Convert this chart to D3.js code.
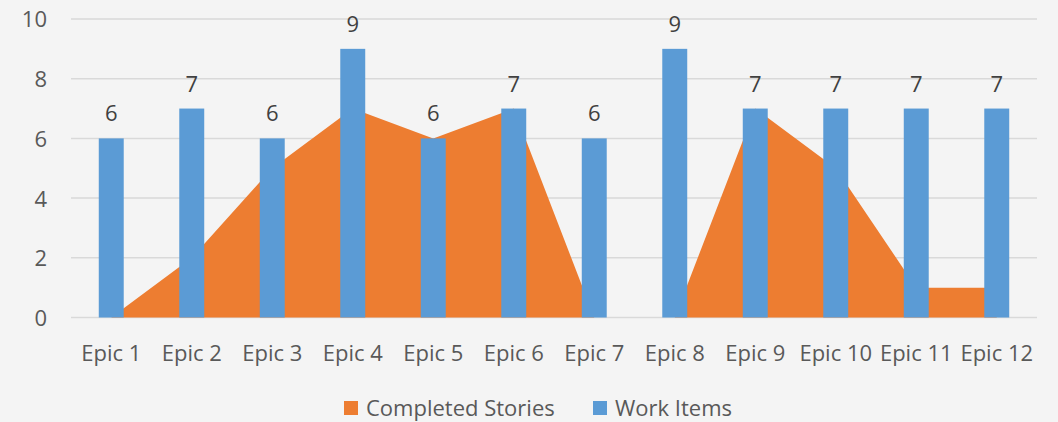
<!DOCTYPE html>
<html>
<head>
<meta charset="utf-8">
<script src="https://cdn.jsdelivr.net/npm/d3@7"></script>
<style>
  html, body { margin: 0; padding: 0; background: #f4f4f4; }
  svg { display: block; }
  text { font-family: "Open Sans", "Noto Sans", sans-serif; }
</style>
</head>
<body>
<svg id="chart" width="1058" height="422"></svg>
<script>
const categories = ["Epic 1","Epic 2","Epic 3","Epic 4","Epic 5","Epic 6","Epic 7","Epic 8","Epic 9","Epic 10","Epic 11","Epic 12"];
const completedStories = [0, 2, 5, 7, 6, 7, 0, 0, 7, 5, 1, 1];
const workItems = [6, 7, 6, 9, 6, 7, 6, 9, 7, 7, 7, 7];
const yTicks = [0, 2, 4, 6, 8, 10];
const seriesNames = ["Completed Stories", "Work Items"];
const colors = { completed: "#ed7d31", work: "#5b9bd5" };

const svg = d3.select("#chart");
const W = 1058, H = 422;
const FS = 22;
svg.append("rect").attr("width", W).attr("height", H).attr("fill", "#f4f4f4");

const x = d3.scaleBand().domain(categories).range([71, 1037]).padding(0);
const y = d3.scaleLinear().domain([0, 10]).range([317.5, 19]);
const barW = x.bandwidth() * 0.31;
const cx = c => x(c) + x.bandwidth() / 2;

// gridlines
svg.append("g").selectAll("line").data(yTicks).join("line")
  .attr("x1", 71).attr("x2", 1037)
  .attr("y1", d => y(d)).attr("y2", d => y(d))
  .attr("stroke", "#d9d9d9").attr("stroke-width", 1.5);

// y axis labels
const yAxis = d3.axisLeft(y).tickValues(yTicks).tickSize(0).tickPadding(0);
const yg = svg.append("g").attr("transform", "translate(47,0)").call(yAxis);
yg.select(".domain").remove();
yg.selectAll("text").attr("fill", "#595959").attr("font-size", FS).attr("dy", "0.36em")
  .style("font-family", '"Open Sans", sans-serif');

// area
const area = d3.area()
  .x((d, i) => cx(categories[i]))
  .y0(y(0)).y1(d => y(d));
svg.append("path").datum(completedStories)
  .attr("d", area).attr("fill", colors.completed);

// bars
svg.append("g").selectAll("rect").data(workItems).join("rect")
  .attr("x", (d, i) => cx(categories[i]) - barW / 2)
  .attr("width", barW)
  .attr("y", d => y(d))
  .attr("height", d => y(0) - y(d))
  .attr("fill", colors.work);

// data labels
svg.append("g").selectAll("text").data(workItems).join("text")
  .attr("x", (d, i) => cx(categories[i]))
  .attr("y", d => y(d) - 17)
  .attr("text-anchor", "middle")
  .attr("font-size", FS)
  .attr("fill", "#404040")
  .text(d => d);

// x axis labels
const xAxis = d3.axisBottom(x).tickSize(0).tickPadding(0);
const xg = svg.append("g").attr("transform", "translate(0,345)").call(xAxis);
xg.select(".domain").remove();
xg.selectAll("text").attr("fill", "#595959").attr("font-size", FS).attr("dy", "0.71em")
  .style("font-family", '"Open Sans", sans-serif');

// legend
const legend = svg.append("g");
const items = [
  { name: seriesNames[0], color: colors.completed, x: 344 },
  { name: seriesNames[1], color: colors.work, x: 593 }
];
items.forEach(it => {
  legend.append("rect").attr("x", it.x).attr("y", 401).attr("width", 14).attr("height", 14).attr("fill", it.color);
  legend.append("text").attr("x", it.x + 22).attr("y", 415.5).attr("font-size", 22)
    .attr("fill", "#595959").text(it.name);
});
</script>
</body>
</html>
